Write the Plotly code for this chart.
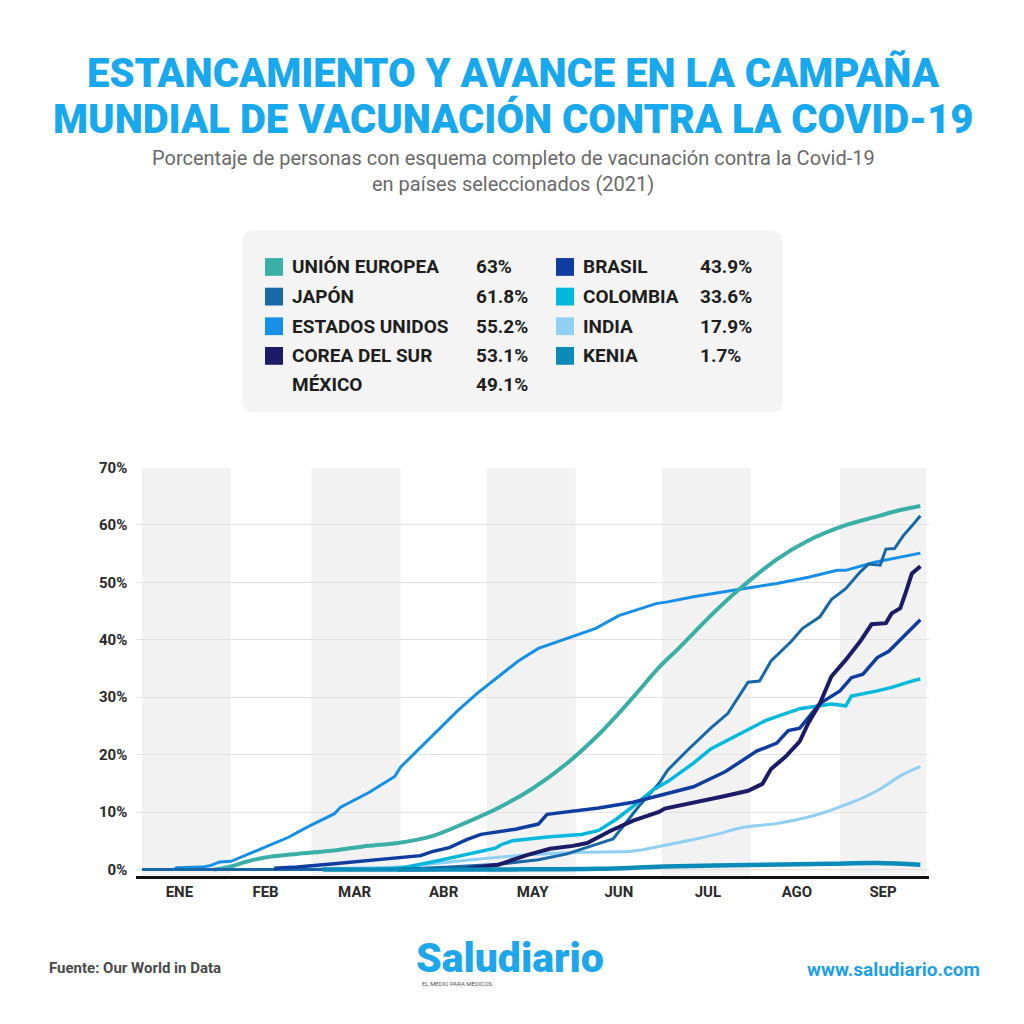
import plotly.graph_objects as go

# ---------------- data ----------------
EU_dates = ["2021-01-26","2021-01-31","2021-02-06","2021-02-12","2021-02-24","2021-03-07","2021-03-19","2021-03-31",
            "2021-04-12","2021-04-24","2021-05-05","2021-05-17","2021-05-29","2021-06-09","2021-06-21","2021-06-30",
            "2021-07-07","2021-07-18","2021-07-27","2021-08-10","2021-08-21","2021-09-02","2021-09-14","2021-09-22","2021-09-29"]
EU_vals = [0, 0.4, 1.3, 2.0, 2.7, 3.2, 4.0, 4.6, 5.8, 8.2, 10.7, 14.1, 18.5, 23.5, 30.0, 35.2,
           38.6, 44.2, 48.4, 54.0, 57.3, 59.8, 61.5, 62.6, 63.3]

US_dates = ["2021-01-01","2021-01-12","2021-01-13","2021-01-22","2021-01-25","2021-01-28","2021-02-01","2021-02-06",
            "2021-02-12","2021-02-21","2021-02-28","2021-03-09","2021-03-11","2021-03-21","2021-03-30","2021-04-01",
            "2021-04-06","2021-04-14","2021-04-21","2021-04-28","2021-05-05","2021-05-12","2021-05-19","2021-05-26",
            "2021-06-08","2021-06-16","2021-06-23","2021-06-29","2021-07-03","2021-07-12","2021-07-27","2021-08-10",
            "2021-08-21","2021-08-31","2021-09-03","2021-09-13","2021-09-29"]
US_vals = [0.0, 0.0, 0.3, 0.4, 0.7, 1.3, 1.4, 2.4, 3.7, 5.6, 7.5, 9.7, 10.8, 13.4, 16.2, 17.8,
           20.3, 24.2, 27.7, 30.8, 33.5, 36.3, 38.5, 39.7, 42.0, 44.2, 45.3, 46.3, 46.6, 47.5, 48.7, 49.8,
           50.9, 52.1, 52.1, 53.5, 55.1]

JP_dates = ["2021-01-01","2021-03-31","2021-04-18","2021-05-05","2021-05-19","2021-05-29","2021-06-06","2021-06-14",
            "2021-06-23","2021-06-30","2021-07-03","2021-07-10","2021-07-18","2021-07-24","2021-07-31","2021-08-04",
            "2021-08-08","2021-08-15","2021-08-19","2021-08-25","2021-08-29","2021-09-03","2021-09-08","2021-09-11",
            "2021-09-15","2021-09-17","2021-09-20","2021-09-23","2021-09-26","2021-09-29"]
JP_vals = [0, 0, 0.4, 0.9, 1.7, 2.7, 4.0, 5.3, 11.0, 15.0, 17.3, 20.8, 24.6, 27.2, 32.6, 32.8,
           36.3, 39.7, 42.0, 44.0, 47.0, 48.9, 51.8, 53.2, 53.0, 55.8, 55.9, 58.1, 59.8, 61.6]

BR_dates = ["2021-02-16","2021-02-24","2021-03-07","2021-03-19","2021-03-30","2021-04-08","2021-04-12","2021-04-18",
            "2021-04-24","2021-04-29","2021-05-11","2021-05-19","2021-05-22","2021-05-29","2021-06-09","2021-06-21",
            "2021-07-02","2021-07-12","2021-07-23","2021-08-03","2021-08-10","2021-08-14","2021-08-18","2021-08-25",
            "2021-09-01","2021-09-05","2021-09-09","2021-09-14","2021-09-18","2021-09-22","2021-09-26","2021-09-29"]
BR_vals = [0.2, 0.4, 0.9, 1.5, 2.1, 2.4, 3.1, 3.8, 5.2, 6.1, 7.0, 7.9, 9.6, 10.0, 10.7, 11.7,
           13.1, 14.4, 17.0, 20.6, 22.0, 24.2, 24.6, 28.9, 31.1, 33.4, 34.0, 36.9, 38.0, 40.0, 42.0, 43.5]

KR_dates = ["2021-03-31","2021-04-24","2021-05-05","2021-05-15","2021-05-23","2021-05-31","2021-06-05","2021-06-13",
            "2021-06-21","2021-06-30","2021-07-02","2021-07-12","2021-07-23","2021-07-31","2021-08-05","2021-08-08",
            "2021-08-13","2021-08-18","2021-08-21","2021-08-25","2021-08-29","2021-09-03","2021-09-08","2021-09-12",
            "2021-09-17","2021-09-19","2021-09-22","2021-09-24","2021-09-26","2021-09-29"]
KR_vals = [0, 0.1, 0.8, 2.5, 3.6, 4.1, 4.6, 6.7, 8.5, 10.0, 10.6, 11.6, 12.8, 13.7, 14.9, 17.5,
           19.6, 22.3, 25.5, 28.9, 33.6, 36.5, 39.7, 42.7, 42.9, 44.6, 45.5, 48.4, 51.5, 52.8]

CO_dates = ["2021-03-24","2021-04-02","2021-04-14","2021-04-25","2021-05-04","2021-05-06","2021-05-10","2021-05-23",
            "2021-06-03","2021-06-09","2021-06-15","2021-06-21","2021-06-28","2021-07-03","2021-07-12","2021-07-18",
            "2021-07-26","2021-08-06","2021-08-18","2021-08-29","2021-09-03","2021-09-05","2021-09-14","2021-09-19",
            "2021-09-26","2021-09-29"]
CO_vals = [0.0, 0.3, 1.5, 2.7, 3.7, 4.3, 5.0, 5.7, 6.1, 6.8, 8.7, 11.0, 13.9, 15.3, 18.5, 21.0,
           23.0, 25.9, 28.0, 28.8, 28.5, 30.2, 31.1, 31.7, 32.8, 33.2]

IN_dates = ["2021-02-24","2021-03-10","2021-04-03","2021-04-24","2021-05-17","2021-06-03","2021-06-21","2021-06-30",
            "2021-07-12","2021-07-20","2021-07-29","2021-08-10","2021-08-20","2021-08-27","2021-09-03","2021-09-10",
            "2021-09-16","2021-09-22","2021-09-29"]
IN_vals = [0, 0.2, 0.5, 1.6, 2.6, 3.0, 3.2, 4.0, 5.2, 6.1, 7.3, 8.0, 9.0, 10.0, 11.3, 12.7, 14.3, 16.3, 17.9]

KE_dates = ["2021-03-05","2021-05-05","2021-06-09","2021-07-02","2021-08-06","2021-08-29","2021-09-14","2021-09-29"]
KE_vals = [0, 0.0, 0.1, 0.5, 0.8, 1.0, 1.1, 0.8]

MONTH_TICKS = ["2021-01-14","2021-02-13","2021-03-16","2021-04-16","2021-05-17","2021-06-16","2021-07-17","2021-08-17","2021-09-16"]
MONTH_LABELS = ["ENE","FEB","MAR","ABR","MAY","JUN","JUL","AGO","SEP"]
MONTH_STARTS = ["2021-01-01","2021-02-01","2021-03-01","2021-04-01","2021-05-01","2021-06-01","2021-07-01",
                "2021-08-01","2021-09-01","2021-10-01"]
Y_TICKS = [0, 10, 20, 30, 40, 50, 60, 70]
Y_LABELS = ["0%","10%","20%","30%","40%","50%","60%","70%"]

LEGEND_NAMES = ["UNIÓN EUROPEA","JAPÓN","ESTADOS UNIDOS","COREA DEL SUR","MÉXICO","BRASIL","COLOMBIA","INDIA","KENIA"]
LEGEND_VALUES = ["63%","61.8%","55.2%","53.1%","49.1%","43.9%","33.6%","17.9%","1.7%"]

# ---------------- styles ----------------
C = {
    "UE": "#3aafa6", "JP": "#1868a6", "US": "#168fe6", "KR": "#1c1b68",
    "BR": "#0e3d9f", "CO": "#00b9dd", "IN": "#8fd0f4", "KE": "#0a8bb8",
}
LEG_COLORS = [C["UE"], C["JP"], C["US"], C["KR"], None, C["BR"], C["CO"], C["IN"], C["KE"]]
TITLE_BLUE = "#17a8ee"
COND = "Roboto, sans-serif"
MAIN = "Roboto, sans-serif"

W = H = 1024


def px(x, y):
    return x / W, 1 - y / H


fig = go.Figure()

series = [
    ("INDIA", IN_dates, IN_vals, C["IN"], 3, "spline"),
    ("ESTADOS UNIDOS", US_dates, US_vals, C["US"], 3, "linear"),
    ("UNIÓN EUROPEA", EU_dates, EU_vals, C["UE"], 4, "spline"),
    ("JAPÓN", JP_dates, JP_vals, C["JP"], 3, "linear"),
    ("COLOMBIA", CO_dates, CO_vals, C["CO"], 3.5, "linear"),
    ("BRASIL", BR_dates, BR_vals, C["BR"], 3.5, "linear"),
    ("COREA DEL SUR", KR_dates, KR_vals, C["KR"], 4, "linear"),
    ("KENIA", KE_dates, KE_vals, C["KE"], 4.5, "spline"),
]
for name, xs, ys, col, w, shape in series:
    fig.add_trace(go.Scatter(x=xs, y=ys, mode="lines", name=name,
                             line=dict(color=col, width=w, shape=shape),
                             hoverinfo="skip", showlegend=False))

shapes = []
# alternating month bands
for i in range(len(MONTH_STARTS) - 1):
    if i % 2 == 0:
        shapes.append(dict(type="rect", xref="x", yref="y", x0=MONTH_STARTS[i], x1=MONTH_STARTS[i + 1],
                           y0=-1.1, y1=70, fillcolor="#f2f2f2", line=dict(width=0), layer="below"))

# legend box (rounded)
bx0, by0, bx1, by1, r = 242, 224, 783, 408, 12
X0, Y0 = bx0 / W, 1 - by0 / H
X1, Y1 = bx1 / W, 1 - by1 / H
rr = r / W
path = (f"M {X0+rr},{Y0} L {X1-rr},{Y0} Q {X1},{Y0} {X1},{Y0-rr} L {X1},{Y1+rr} Q {X1},{Y1} {X1-rr},{Y1} "
        f"L {X0+rr},{Y1} Q {X0},{Y1} {X0},{Y1+rr} L {X0},{Y0-rr} Q {X0},{Y0} {X0+rr},{Y0} Z")
shapes.append(dict(type="path", xref="paper", yref="paper", path=path, fillcolor="#f4f4f4",
                   line=dict(width=0), layer="below"))

annotations = []
rows_y = [261, 291, 321, 351, 380]
cols = [(265, 290, 474), (556, 581, 698)]
for k, (nm, val, col) in enumerate(zip(LEGEND_NAMES, LEGEND_VALUES, LEG_COLORS)):
    c = 0 if k < 5 else 1
    rrow = k if k < 5 else k - 5
    sx, tx, vx = cols[c]
    yc = rows_y[rrow]
    if col is not None:
        shapes.append(dict(type="rect", xref="paper", yref="paper",
                           x0=sx / W, x1=(sx + 18) / W, y0=1 - (yc + 9) / H, y1=1 - (yc - 9) / H,
                           fillcolor=col, line=dict(width=0)))
    for txt, xx in ((nm, tx), (val, vx)):
        ax, ay = px(xx, yc)
        annotations.append(dict(xref="paper", yref="paper", x=ax, y=ay, xanchor="left", yanchor="middle",
                                text=txt, showarrow=False,
                                font=dict(family=COND, size=19, color="#1e1e1e", weight=700)))

# titles
for txt, yy in (("ESTANCAMIENTO Y AVANCE EN LA CAMPAÑA", 65), ("MUNDIAL DE VACUNACIÓN CONTRA LA COVID-19", 111)):
    ax, ay = px(513, yy)
    annotations.append(dict(xref="paper", yref="paper", x=ax, y=ay, xanchor="center", yanchor="middle",
                            text=txt, showarrow=False, borderpad=0,
                            font=dict(family=MAIN, size=40, color=TITLE_BLUE, weight=900)))
for txt, yy in (("Porcentaje de personas con esquema completo de vacunación contra la Covid-19", 151),
                ("en países seleccionados (2021)", 177)):
    ax, ay = px(513, yy)
    annotations.append(dict(xref="paper", yref="paper", x=ax, y=ay, xanchor="center", yanchor="middle",
                            text=txt, showarrow=False, borderpad=0,
                            font=dict(family=COND, size=20, color="#6a6a6a", weight=400)))

# footer
ax, ay = px(47, 970)
annotations.append(dict(xref="paper", yref="paper", x=ax, y=ay, xanchor="left", yanchor="middle",
                        text="Fuente: Our World in Data", showarrow=False,
                        font=dict(family=COND, size=15, color="#4a4a4a", weight=700)))
ax, ay = px(510, 960)
annotations.append(dict(xref="paper", yref="paper", x=ax, y=ay, xanchor="center", yanchor="middle",
                        text="Saludiario", showarrow=False,
                        font=dict(family=MAIN, size=41, color="#1ea6ec", weight=900)))
ax, ay = px(420, 986)
annotations.append(dict(xref="paper", yref="paper", x=ax, y=ay, xanchor="left", yanchor="middle",
                        text="EL MEDIO PARA MÉDICOS", showarrow=False,
                        font=dict(family=COND, size=6, color="#555555")))
ax, ay = px(982, 972)
annotations.append(dict(xref="paper", yref="paper", x=ax, y=ay, xanchor="right", yanchor="middle",
                        text="www.saludiario.com", showarrow=False,
                        font=dict(family=COND, size=19, color="#1e9fe6", weight=700)))

fig.update_layout(
    width=W, height=H, margin=dict(l=0, r=0, t=0, b=0),
    paper_bgcolor="white", plot_bgcolor="white",
    shapes=shapes, annotations=annotations, showlegend=False,
    xaxis=dict(domain=[136.3 / W, 929 / W], type="date", range=["2020-12-30", "2021-10-02"],
               showgrid=False, zeroline=False, showline=True, linecolor="#111111", linewidth=3,
               tickvals=MONTH_TICKS, ticktext=MONTH_LABELS, ticks="",
               tickfont=dict(family=COND, size=15, color="#2a2a2a", weight=700)),
    yaxis=dict(domain=[1 - 877 / H, 1 - 464 / H], range=[-1.1, 70], showgrid=True, gridcolor="#e2e2e2",
               gridwidth=1, zeroline=False, showline=False, tickvals=Y_TICKS, ticktext=Y_LABELS, ticks="",
               ticklabelstandoff=8,
               tickfont=dict(family=COND, size=15, color="#2a2a2a", weight=700)),
)

fig.write_html("out.html", config={"displayModeBar": False},
               post_script="document.body.style.margin='0';")
